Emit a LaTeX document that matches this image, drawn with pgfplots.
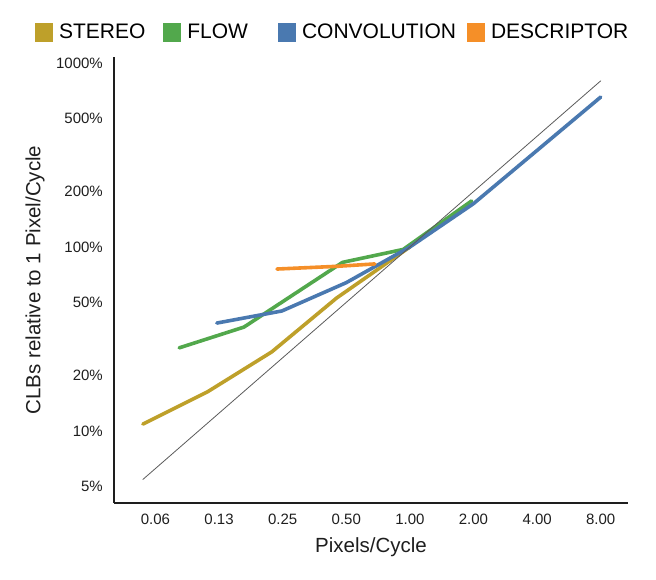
\documentclass[border=0pt]{standalone}
\usepackage{pgfplots}
\pgfplotsset{compat=1.18}
\usepackage{fontspec}
\setmainfont{Liberation Sans}
\definecolor{stereo}{RGB}{190,160,42}
\definecolor{flow}{RGB}{82,168,76}
\definecolor{conv}{RGB}{74,121,176}
\definecolor{desc}{RGB}{245,143,40}
\definecolor{ref}{RGB}{90,90,90}
\definecolor{axc}{RGB}{30,30,30}
\begin{document}
\begin{tikzpicture}
\begin{axis}[
  name=ax,
  scale only axis,
  width=514bp, height=446bp,
  xmode=log, log basis x=2, ymode=log,
  xmin=0.0398, xmax=10.77, ymin=4.06, ymax=1078,
  axis x line*=bottom, axis y line*=left,
  axis line style={axc, line width=1.3bp, -},
  major tick length=0pt, minor tick num=0,
  xtick={0.0625,0.125,0.25,0.5,1,2,4,8},
  xticklabels={0.06,0.13,0.25,0.50,1.00,2.00,4.00,8.00},
  ytick={5,10,20,50,100,200,500,1000},
  yticklabels={5\%,10\%,20\%,50\%,100\%,200\%,500\%,1000\%},
  /pgf/number format/assume math mode=true,
  tick label style={font=\fontsize{15bp}{18bp}\selectfont, text=axc},
  xticklabel style={inner sep=0pt, yshift=-11bp},
  yticklabel style={inner sep=0pt, xshift=-11bp},
  xlabel={Pixels/Cycle},
  ylabel={CLBs relative to 1 Pixel/Cycle},
  every axis x label/.style={at={(axis description cs:0.5,0)}, anchor=center, yshift=-44bp,
    font=\fontsize{20.5bp}{24bp}\selectfont, text=axc},
  every axis y label/.style={at={(axis description cs:-0.1537,0.5)}, rotate=90, anchor=center,
    font=\fontsize{20.5bp}{24bp}\selectfont, text=axc},
  legend columns=4,
  legend style={at={(axis description cs:-0.154,1.056)}, anchor=west, draw=none, fill=none,
    inner sep=0pt, font=\fontsize{21bp}{24bp}\selectfont,
    /tikz/every odd column/.append style={column sep=5bp},
    /tikz/every even column/.append style={column sep=17bp},
    nodes={inner sep=1bp, text=black}},
  legend image code/.code={\fill[draw=none] (0bp,-9.5bp) rectangle (18bp,9.5bp);},
  every axis plot/.append style={line width=3.6bp, line join=round, line cap=round},
  clip=false,
]
\addplot[stereo] coordinates {(0.0545,10.9) (0.11,16.3) (0.222,26.9) (0.45,52.8) (1,100)};
\addlegendentry{STEREO}
\addplot[flow] coordinates {(0.081,28.3) (0.164,36.7) (0.48,82.5) (0.93,97) (1.96,178)};
\addlegendentry{FLOW\rule{12bp}{0pt}}
\addplot[conv] coordinates {(0.122,38.6) (0.248,44.9) (0.5,64) (1,100) (2,172) (4,335) (8,653)};
\addlegendentry{CONVOLUTION\kern-7bp}
\addplot[desc] coordinates {(0.235,75.9) (0.45,78.5) (0.683,80.9)};
\addlegendentry{DESCRIPTOR}
\addplot[ref, line width=0.8bp, forget plot] coordinates {(0.0545,5.45) (8,800)};
\end{axis}
\pgfresetboundingbox
\path (ax.south west) ++(-114bp,-77bp) rectangle ++(656bp,580bp);
\end{tikzpicture}
\end{document}
